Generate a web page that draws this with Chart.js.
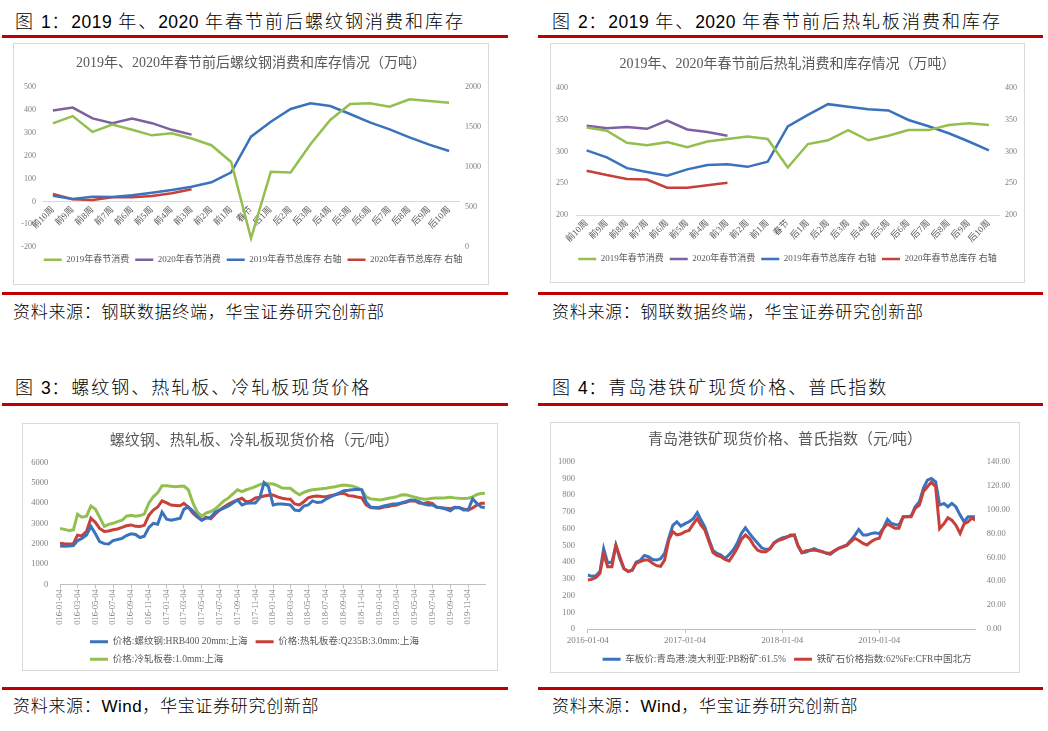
<!DOCTYPE html>
<html><head><meta charset="utf-8">
<script src="https://cdn.jsdelivr.net/npm/chart.js@4.4.1/dist/chart.umd.min.js"></script>
<style>
html,body{margin:0;padding:0;background:#fff;}
body{width:1048px;height:731px;position:relative;overflow:hidden;font-family:"Noto Sans CJK SC",sans-serif;}
.hd,.ft{position:absolute;white-space:nowrap;color:#000;line-height:24px;font-weight:300;}
.hd{font-size:18px;letter-spacing:2px;}
.ft{font-size:17px;letter-spacing:0.7px;}
.n{font-family:"Liberation Sans",Arial,sans-serif;font-size:17.5px;letter-spacing:0.5px;font-weight:400;}
.rule{position:absolute;height:3px;background:#c00000;}
.box{position:absolute;border:1px solid #d9d9d9;box-sizing:border-box;}
.box canvas{position:absolute;left:0;top:0;}
</style></head>
<body>
<div class="hd" style="left:15px;top:8px">图 <span class="n">1</span>：<span class="n">2019</span> 年、<span class="n">2020</span> 年春节前后螺纹钢消费和库存</div>
<div class="rule" style="left:2px;top:35px;width:506px"></div>
<div class="box" style="left:13px;top:43px;width:476px;height:242px"><canvas id="c1" width="474" height="240"></canvas></div>
<div class="rule" style="left:2px;top:292px;width:506px"></div>
<div class="ft" style="left:13px;top:299px">资料来源：钢联数据终端，华宝证券研究创新部</div>

<div class="hd" style="left:552px;top:8px">图 <span class="n">2</span>：<span class="n">2019</span> 年、<span class="n">2020</span> 年春节前后热轧板消费和库存</div>
<div class="rule" style="left:538px;top:35px;width:505px"></div>
<div class="box" style="left:550px;top:43px;width:475px;height:240px"><canvas id="c2" width="473" height="238"></canvas></div>
<div class="rule" style="left:538px;top:292px;width:505px"></div>
<div class="ft" style="left:552px;top:299px">资料来源：钢联数据终端，华宝证券研究创新部</div>

<div class="hd" style="left:15px;top:374px">图 <span class="n">3</span>：螺纹钢、热轧板、冷轧板现货价格</div>
<div class="rule" style="left:2px;top:403px;width:506px"></div>
<div class="box" style="left:22px;top:423px;width:476px;height:248px"><canvas id="c3" width="474" height="246"></canvas></div>
<div class="rule" style="left:2px;top:687px;width:506px"></div>
<div class="ft" style="left:13px;top:693px">资料来源：<span class="n" style="font-size:17px">Wind</span>，华宝证券研究创新部</div>

<div class="hd" style="left:552px;top:374px">图 <span class="n">4</span>：青岛港铁矿现货价格、普氏指数</div>
<div class="rule" style="left:538px;top:403px;width:505px"></div>
<div class="box" style="left:550px;top:422px;width:470px;height:251px"><canvas id="c4" width="468" height="249"></canvas></div>
<div class="rule" style="left:538px;top:687px;width:505px"></div>
<div class="ft" style="left:552px;top:693px">资料来源：<span class="n" style="font-size:17px">Wind</span>，华宝证券研究创新部</div>

<script>
// ---------- Data: charts 1 & 2 (weeks around Spring Festival) ----------
const weekLabels = ['前10周','前9周','前8周','前7周','前6周','前5周','前4周','前3周','前2周','前1周','春节',
  '后1周','后2周','后3周','后4周','后5周','后6周','后7周','后8周','后9周','后10周'];
const rebarCons2019 = [340,372,303,335,312,288,297,274,245,172,-161,129,126,249,355,425,428,413,445,438,430];
const rebarCons2020 = [396,409,362,341,361,341,312,291];
const rebarStock2019 = [643,602,631,627,647,680,714,755,809,934,1378,1564,1722,1793,1759,1660,1556,1469,1369,1278,1199];
const rebarStock2020 = [664,598,589,622,622,639,672,722];

const hrcCons2019 = [338,333,314,310,315,307,316,320,324,320,275,312,318,334,318,325,334,334,342,345,342];
const hrcCons2020 = [341,337,339,336,349,335,331,325];
const hrcStock2019 = [302,291,274,268,262,272,279,280,276,284,340,358,375,371,367,365,350,340,329,316,302];
const hrcStock2020 = [270,263,257,256,243,243,247,251];

// ---------- Data: charts 3 & 4 (sampled dates) ----------
const priceDates = [
'2016-01-04','2016-01-19','2016-02-04','2016-02-19','2016-03-04','2016-03-19','2016-04-04','2016-04-19','2016-05-04','2016-05-19','2016-06-04','2016-06-19',
'2016-07-04','2016-07-19','2016-08-04','2016-08-19','2016-09-04','2016-09-19','2016-10-04','2016-10-19','2016-11-04','2016-11-19','2016-12-04','2016-12-19',
'2017-01-04','2017-01-19','2017-02-04','2017-02-19','2017-03-04','2017-03-19','2017-04-04','2017-04-19','2017-05-04','2017-05-19','2017-06-04','2017-06-19',
'2017-07-04','2017-07-19','2017-08-04','2017-08-19','2017-09-04','2017-09-19','2017-10-04','2017-10-19','2017-11-04','2017-11-19','2017-12-04','2017-12-19',
'2018-01-04','2018-01-19','2018-02-04','2018-02-19','2018-03-04','2018-03-19','2018-04-04','2018-04-19','2018-05-04','2018-05-19','2018-06-04','2018-06-19',
'2018-07-04','2018-07-19','2018-08-04','2018-08-19','2018-09-04','2018-09-19','2018-10-04','2018-10-19','2018-11-04','2018-11-19','2018-12-04','2018-12-19',
'2019-01-04','2019-01-19','2019-02-04','2019-02-19','2019-03-04','2019-03-19','2019-04-04','2019-04-19','2019-05-04','2019-05-19','2019-06-04','2019-06-19',
'2019-07-04','2019-07-19','2019-08-04','2019-08-19','2019-09-04','2019-09-19','2019-10-04','2019-10-19','2019-11-04','2019-11-19','2019-12-04','2019-12-19','2019-12-31'];

const rebarPrice = [1880,1870,1880,1900,2150,2260,2430,2850,2500,2100,2000,1980,2150,2200,2260,2400,2480,2450,2300,2360,2800,3000,2950,3550,
 3200,3150,3200,3250,3700,3800,3600,3350,3150,3250,3300,3550,3650,3750,3850,4000,4150,3900,3980,4000,4000,4250,5000,4800,
 3900,3950,3950,3930,3900,3650,3620,3850,3900,4100,4020,4050,4180,4300,4400,4500,4600,4620,4650,4680,4650,4050,3800,3780,
 3790,3850,3900,3950,3950,4000,4060,4150,4140,4060,3950,3900,3900,3790,3760,3700,3620,3790,3780,3650,3660,4200,3980,3800,3780];
const hrcPrice = [2020,1990,1980,2000,2420,2380,2600,3250,3050,2750,2600,2620,2680,2720,2800,2880,2920,2850,2840,2900,3400,3650,3800,4100,
 4000,3900,3880,3860,3980,3800,3500,3300,3150,3300,3220,3450,3650,3800,3950,4050,4150,4230,4050,4100,4250,4280,4340,4380,
 4390,4300,4230,4200,4180,3950,3900,4060,4250,4320,4340,4320,4310,4360,4400,4450,4480,4360,4340,4290,4250,3900,3780,3750,
 3740,3800,3830,3880,3900,3980,4030,4100,4110,4000,3980,4020,3980,3800,3760,3740,3720,3780,3760,3700,3650,3750,3900,3980,3980];
const crcPrice = [2750,2700,2650,2680,3450,3300,3350,3850,3700,3300,2850,2950,3000,3080,3150,3350,3400,3350,3380,3450,4000,4300,4500,4850,
 4850,4820,4800,4820,4830,4650,4000,3550,3350,3500,3580,3700,3900,4100,4250,4450,4650,4560,4650,4720,4800,4900,4970,4950,
 4930,4850,4730,4720,4720,4550,4400,4520,4600,4650,4680,4700,4720,4760,4800,4850,4880,4860,4830,4750,4640,4300,4200,4180,
 4150,4180,4230,4270,4310,4390,4400,4350,4290,4230,4180,4200,4230,4240,4250,4260,4280,4250,4230,4220,4230,4300,4420,4470,4480];

const pbPrice = [323,315,318,343,480,395,400,500,420,360,345,350,400,410,440,432,415,412,420,452,545,620,641,615,
 630,641,660,695,655,611,535,470,452,442,422,445,472,512,572,605,570,540,512,485,475,480,515,532,
 545,550,555,562,500,455,460,470,480,470,462,452,446,465,482,492,502,530,560,595,562,562,570,575,
 570,600,655,631,625,621,671,671,675,731,761,841,890,900,880,741,751,731,751,731,681,641,671,671,671];
const plattsIndex = [41,41.5,43,46.6,63,52,52,70,60.5,50.8,48,49.4,55,56.3,57.7,57.7,55,53,52.5,57.7,74.5,81.5,78.7,79.5,
 81.5,82.5,88,92.5,87,83,73,64,61.5,60.5,58,57,62,67.5,75,78.7,75.5,70,66,64.7,64.7,67,71.7,73.9,
 75,76.5,78.7,78.7,70,64,65.5,65.8,66,65.5,64.7,63.5,63.3,65.5,67.5,68.5,70,73,75.9,74,71.7,70.3,73,75,
 75.9,84,88,86,84.3,84.3,94,94,94,101,103.7,115,119,123,119,84,88,93,91,87,80,88,89.7,93,91];

const c3TickLabels = ['2016-01-04','2016-03-04','2016-05-04','2016-07-04','2016-09-04','2016-11-04',
 '2017-01-04','2017-03-04','2017-05-04','2017-07-04','2017-09-04','2017-11-04',
 '2018-01-04','2018-03-04','2018-05-04','2018-07-04','2018-09-04','2018-11-04',
 '2019-01-04','2019-03-04','2019-05-04','2019-07-04','2019-09-04','2019-11-04'];
const c4TickLabels = ['2016-01-04','2017-01-04','2018-01-04','2019-01-04'];

// ---------- Styling ----------
const GREEN = '#93bf4f', PURPLE = '#7d60a0', BLUE = '#3b72bd', RED = '#c8403a';
const TICK = '#7f7f7f', TXT = '#595959', AXIS = '#d9d9d9';
Chart.defaults.font.family = "'Liberation Serif','Noto Sans CJK SC',serif";
Chart.defaults.color = TXT;
Chart.defaults.animation = false;

const DAY0 = Date.UTC(2016, 0, 4);
function dayIndex(s){ const p = s.split('-'); return (Date.UTC(+p[0], +p[1]-1, +p[2]) - DAY0) / 86400000; }
function pts(vals){ return priceDates.map((d,i)=>({x: dayIndex(d), y: vals[i]})); }
const plain = v => String(v);

const legendNudge = {
  id: 'legendNudge',
  afterLayout(chart, args, opts){
    const lg = chart.legend; if (!lg) return;
    const dx = opts.dx || 0, dy = opts.dy || 0;
    lg.left += dx; lg.right += dx; lg.top += dy; lg.bottom += dy;
  }
};
Chart.register(legendNudge);

function ds(label, data, color, axis, w){
  return {label, data, borderColor: color, backgroundColor: color, borderWidth: w, pointRadius: 0, pointHoverRadius: 0, tension: 0, yAxisID: axis, fill: false};
}
function legendOpts(size, pad, extra){
  return Object.assign({position:'bottom', labels:{usePointStyle:true, pointStyle:'line', pointStyleWidth:18, font:{size:size}, padding:pad, color:TXT,
    sort:(a,b)=>a.datasetIndex-b.datasetIndex}}, extra||{});
}
const noGrid = {display:false, drawTicks:false};

// ---------- Chart 1 ----------
new Chart(document.getElementById('c1'), {
  type: 'line',
  data: {labels: weekLabels, datasets: [
    ds('2019年春节消费', rebarCons2019, GREEN, 'y', 2.5),
    ds('2020年春节消费', rebarCons2020, PURPLE, 'y', 2.5),
    ds('2019年春节总库存 右轴', rebarStock2019, BLUE, 'y1', 2.5),
    ds('2020年春节总库存 右轴', rebarStock2020, RED, 'y1', 2.5)
  ]},
  options: {
    responsive: false, animation: false, events: [],
    layout: {padding: {left:0, right:0, top:0, bottom:11.7}, autoPadding: false},
    plugins: {
      title: {display:true, text:'2019年、2020年春节前后螺纹钢消费和库存情况（万吨）', font:{size:14, weight:'normal'}, color:TXT, padding:{top:10.6, bottom:15.3}},
      legend: legendOpts(9, 6),
      legendNudge: {dx: 2, dy: 2},
      tooltip: {enabled:false}
    },
    scales: {
      x: {type:'category', offset:true, position:{y:0}, grid:noGrid, border:{display:true, color:AXIS},
          ticks:{autoSkip:false, minRotation:45, maxRotation:45, padding:3, font:{size:9}, color:TXT}},
      y: {position:'left', min:-200, max:500, grid:noGrid, border:{display:false},
          ticks:{stepSize:100, padding:7, font:{size:8}, color:TICK, callback: plain}, afterFit: s => { s.width = 29; }},
      y1: {position:'right', min:0, max:2000, grid:noGrid, border:{display:false},
          ticks:{stepSize:500, padding:6, font:{size:8}, color:TICK, callback: plain}, afterFit: s => { s.width = 29; }}
    }
  }
});

// ---------- Chart 2 ----------
new Chart(document.getElementById('c2'), {
  type: 'line',
  data: {labels: weekLabels, datasets: [
    ds('2019年春节消费', hrcCons2019, GREEN, 'y', 2.5),
    ds('2020年春节消费', hrcCons2020, PURPLE, 'y', 2.5),
    ds('2019年春节总库存 右轴', hrcStock2019, BLUE, 'y1', 2.5),
    ds('2020年春节总库存 右轴', hrcStock2020, RED, 'y1', 2.5)
  ]},
  options: {
    responsive: false, animation: false, events: [],
    layout: {padding: {left:0, right:0, top:0, bottom:11}, autoPadding: false},
    plugins: {
      title: {display:true, text:'2019年、2020年春节前后热轧消费和库存情况（万吨）', font:{size:14, weight:'normal'}, color:TXT, padding:{top:11.6, bottom:15.9}},
      legend: legendOpts(9, 6),
      legendNudge: {dx: 0, dy: 2.5},
      tooltip: {enabled:false}
    },
    scales: {
      x: {type:'category', offset:true, position:'bottom', grid:noGrid, border:{display:true, color:AXIS},
          ticks:{autoSkip:false, minRotation:45, maxRotation:45, padding:3, font:{size:9}, color:TXT}, afterFit: s => { s.height = 31; }},
      y: {position:'left', min:200, max:400, grid:noGrid, border:{display:false},
          ticks:{stepSize:50, padding:8.6, font:{size:8}, color:TICK, callback: plain}, afterFit: s => { s.width = 25.6; }},
      y1: {position:'right', min:200, max:400, grid:noGrid, border:{display:false},
          ticks:{stepSize:50, padding:6, font:{size:8}, color:TICK, callback: plain}, afterFit: s => { s.width = 25; }}
    }
  }
});

// ---------- Chart 3 ----------
new Chart(document.getElementById('c3'), {
  type: 'line',
  data: {datasets: [
    ds('价格:螺纹钢:HRB400 20mm:上海', pts(rebarPrice), BLUE, 'y', 3),
    ds('价格:热轧板卷:Q235B:3.0mm:上海', pts(hrcPrice), RED, 'y', 3),
    ds('价格:冷轧板卷:1.0mm:上海', pts(crcPrice), GREEN, 'y', 3)
  ]},
  options: {
    responsive: false, animation: false, events: [],
    layout: {padding: {left:0, right:11.3, top:0, bottom:0}, autoPadding: false},
    plugins: {
      title: {display:true, text:'螺纹钢、热轧板、冷轧板现货价格（元/吨）', font:{size:15, weight:'normal'}, color:TXT, padding:{top:7.7, bottom:12.6}},
      legend: legendOpts(9.5, 8, {align:'start'}),
      legendNudge: {dx: 59, dy: 4},
      tooltip: {enabled:false}
    },
    scales: {
      x: {type:'linear', min:0, max:1460,
          afterBuildTicks: s => { s.ticks = c3TickLabels.map(d => ({value: dayIndex(d)})); },
          grid:{display:true, drawOnChartArea:false, drawTicks:true, tickLength:4, color:'#bfbfbf'},
          border:{display:true, color:'#bfbfbf'},
          ticks:{autoSkip:false, minRotation:90, maxRotation:90, padding:1, font:{size:8.5}, color:TICK,
                 callback: (v, i) => c3TickLabels[i]},
          afterFit: s => { s.height = 40.7; }},
      y: {position:'left', min:0, max:6000, grid:noGrid, border:{display:false},
          ticks:{stepSize:1000, padding:11.7, font:{size:8.5}, color:TICK, callback: plain}, afterFit: s => { s.width = 37; }}
    }
  }
});

// ---------- Chart 4 ----------
new Chart(document.getElementById('c4'), {
  type: 'line',
  data: {datasets: [
    Object.assign(ds('车板价:青岛港:澳大利亚:PB粉矿:61.5%', pts(pbPrice), BLUE, 'y', 3), {order:1}),
    Object.assign(ds('铁矿石价格指数:62%Fe:CFR中国北方', pts(plattsIndex), RED, 'y1', 3), {order:0})
  ]},
  options: {
    responsive: false, animation: false, events: [],
    layout: {padding: {left:0, right:0, top:0, bottom:0}, autoPadding: false},
    plugins: {
      title: {display:true, text:'青岛港铁矿现货价格、普氏指数（元/吨）', font:{size:15, weight:'normal'}, color:TXT, padding:{top:8, bottom:12.7}},
      legend: legendOpts(9.5, 8),
      legendNudge: {dx: 2, dy: 2},
      tooltip: {enabled:false}
    },
    scales: {
      x: {type:'linear', min:0, max:1456,
          afterBuildTicks: s => { s.ticks = c4TickLabels.map(d => ({value: dayIndex(d)})); },
          grid:{display:true, drawOnChartArea:false, drawTicks:true, tickLength:4, color:'#bfbfbf'},
          border:{display:true, color:'#bfbfbf'},
          ticks:{autoSkip:false, minRotation:0, maxRotation:0, padding:2, font:{size:9}, color:TICK,
                 callback: (v, i) => c4TickLabels[i]},
          afterFit: s => { s.height = 15.5; }},
      y: {position:'left', min:0, max:1000, grid:noGrid, border:{display:false},
          ticks:{stepSize:100, padding:12.7, font:{size:8.5}, color:TICK, callback: plain}, afterFit: s => { s.width = 36.7; }},
      y1: {position:'right', min:0, max:140, grid:noGrid, border:{display:false},
          ticks:{stepSize:20, padding:11.7, font:{size:8.5}, color:TICK, callback: v => Number(v).toFixed(2)},
          afterFit: s => { s.width = 44; }}
    }
  }
});
</script>
</body></html>
